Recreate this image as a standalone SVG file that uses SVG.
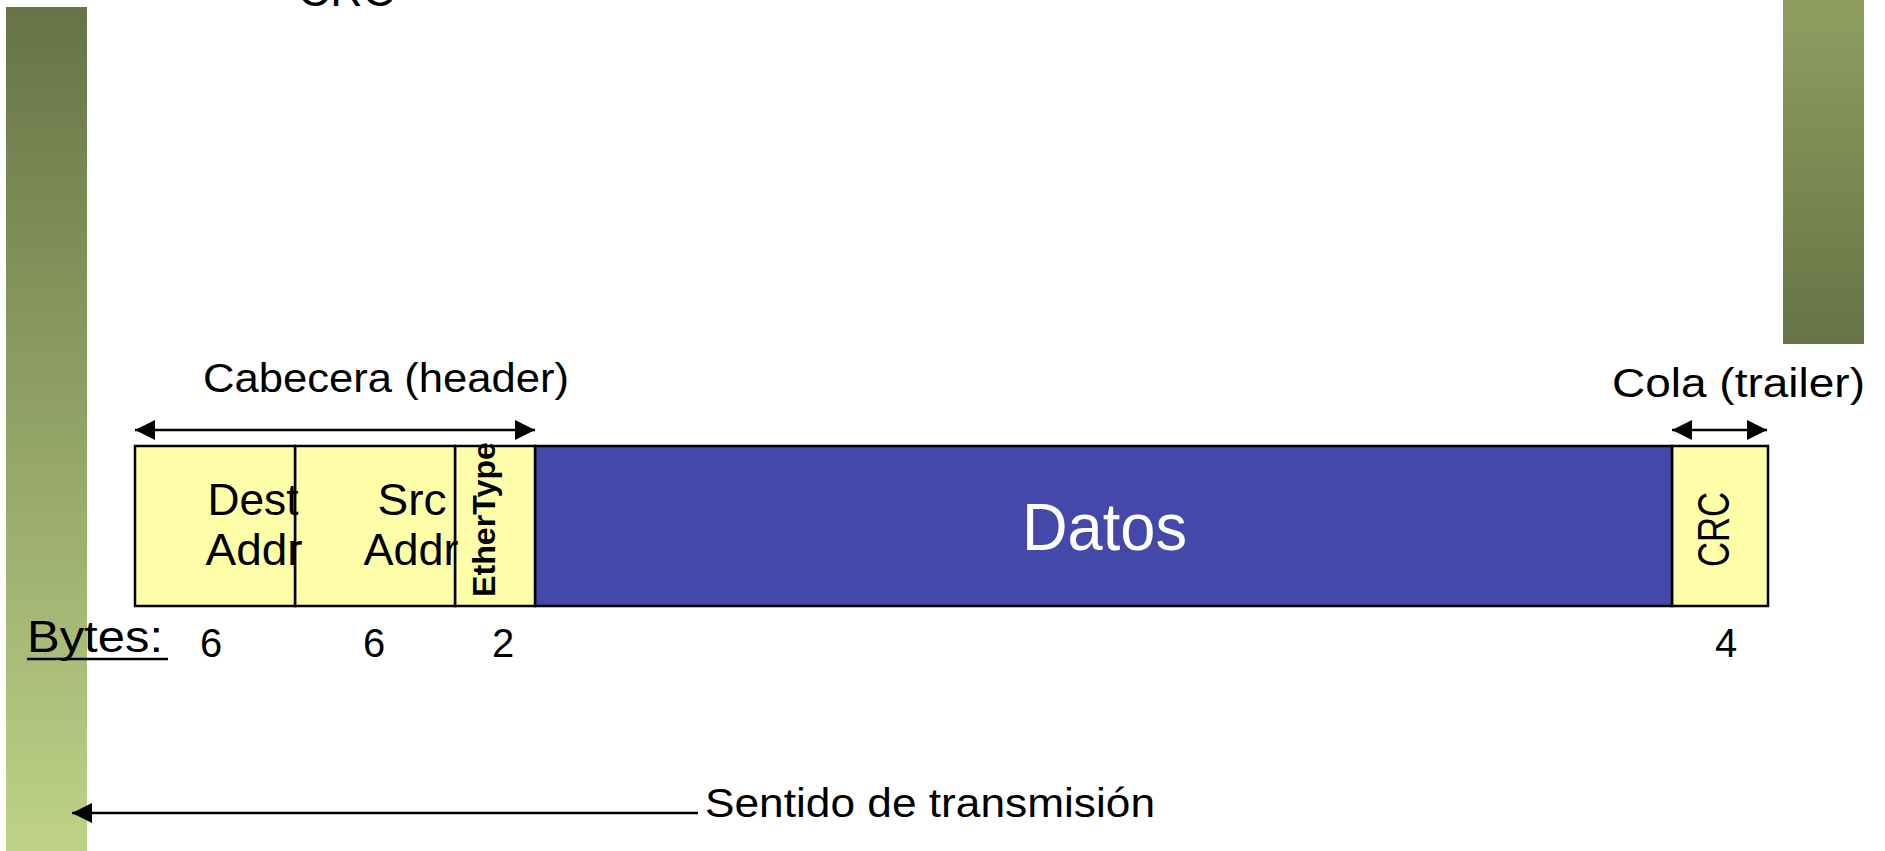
<svg xmlns="http://www.w3.org/2000/svg" width="1885" height="851" viewBox="0 0 1885 851">
  <style>
    text { font-family: "Liberation Sans", "DejaVu Sans", sans-serif; fill: #000; }
    .cell { fill: #ffffaa; stroke: #000; stroke-width: 2.5; }
    .data { fill: #4449a9; stroke: #000; stroke-width: 2.5; }
    .conn { stroke: #000; stroke-width: 2.5; fill: none; }
    .lbl { font-size: 40px; }
    .big { font-size: 44px; }
  </style>
  <defs>
    <linearGradient id="gLeft" x1="0" y1="0" x2="0" y2="1">
      <stop offset="0" stop-color="#667446"/>
      <stop offset="1" stop-color="#bed287"/>
    </linearGradient>
    <linearGradient id="gRight" x1="0" y1="0" x2="0" y2="1">
      <stop offset="0" stop-color="#8f9e60"/>
      <stop offset="1" stop-color="#667446"/>
    </linearGradient>
    <marker id="ah" viewBox="0 0 20 20" refX="20" refY="10" markerWidth="20" markerHeight="20" markerUnits="userSpaceOnUse" orient="auto-start-reverse">
      <path d="M0,0 L20,10 L0,20 Z" fill="#000"/>
    </marker>
  </defs>

  <g id="decor">
    <rect x="6" y="7" width="81" height="844" fill="url(#gLeft)"/>
    <rect x="1783" y="0" width="81" height="344" fill="url(#gRight)"/>
    <text x="298" y="6" font-size="44" textLength="97" lengthAdjust="spacingAndGlyphs">CRC</text>
  </g>

  <g id="crc">
    <rect class="cell" x="1672" y="446" width="96" height="160"/>
    <text transform="translate(1729,567) rotate(-90)" font-size="44" textLength="75" lengthAdjust="spacingAndGlyphs">CRC</text>
  </g>
  <g id="datos">
    <rect class="data" x="535" y="446" width="1137" height="160"/>
    <text x="1022" y="550" font-size="66" style="fill:#fff" textLength="165" lengthAdjust="spacingAndGlyphs">Datos</text>
  </g>
  <g id="ethertype">
    <rect class="cell" x="455" y="446" width="80" height="160"/>
    <text transform="translate(495,597) rotate(-90)" font-size="32" font-weight="bold" textLength="155" lengthAdjust="spacingAndGlyphs">EtherType</text>
  </g>
  <g id="src">
    <rect class="cell" x="295" y="446" width="160" height="160"/>
    <text class="big" x="412" y="515" text-anchor="middle" textLength="69" lengthAdjust="spacingAndGlyphs">Src</text>
    <text class="big" x="411" y="565" text-anchor="middle" textLength="95" lengthAdjust="spacingAndGlyphs">Addr</text>
  </g>
  <g id="dest">
    <rect class="cell" x="135" y="446" width="160" height="160"/>
    <text class="big" x="253" y="515" text-anchor="middle" textLength="91" lengthAdjust="spacingAndGlyphs">Dest</text>
    <text class="big" x="254" y="565" text-anchor="middle" textLength="97" lengthAdjust="spacingAndGlyphs">Addr</text>
  </g>

  <g id="labels">
    <text class="lbl" x="203" y="392" textLength="366" lengthAdjust="spacingAndGlyphs">Cabecera (header)</text>
    <text class="lbl" x="1612" y="397" textLength="253" lengthAdjust="spacingAndGlyphs">Cola (trailer)</text>
    <text class="big" x="27" y="652" textLength="136" lengthAdjust="spacingAndGlyphs">Bytes:</text>
    <line x1="27" y1="659" x2="168" y2="659" stroke="#000" stroke-width="2.5"/>
    <text class="lbl" x="211" y="657" text-anchor="middle">6</text>
    <text class="lbl" x="374" y="657" text-anchor="middle">6</text>
    <text class="lbl" x="503" y="657" text-anchor="middle">2</text>
    <text class="lbl" x="1726" y="657" text-anchor="middle">4</text>
    <text class="lbl" x="705" y="817" textLength="450" lengthAdjust="spacingAndGlyphs">Sentido de transmisión</text>
  </g>

  <g id="connectors">
    <line class="conn" x1="135" y1="430" x2="535" y2="430" marker-start="url(#ah)" marker-end="url(#ah)"/>
    <line class="conn" x1="1672" y1="430" x2="1767" y2="430" marker-start="url(#ah)" marker-end="url(#ah)"/>
    <line class="conn" x1="698" y1="813" x2="72" y2="813" marker-end="url(#ah)"/>
  </g>
</svg>
